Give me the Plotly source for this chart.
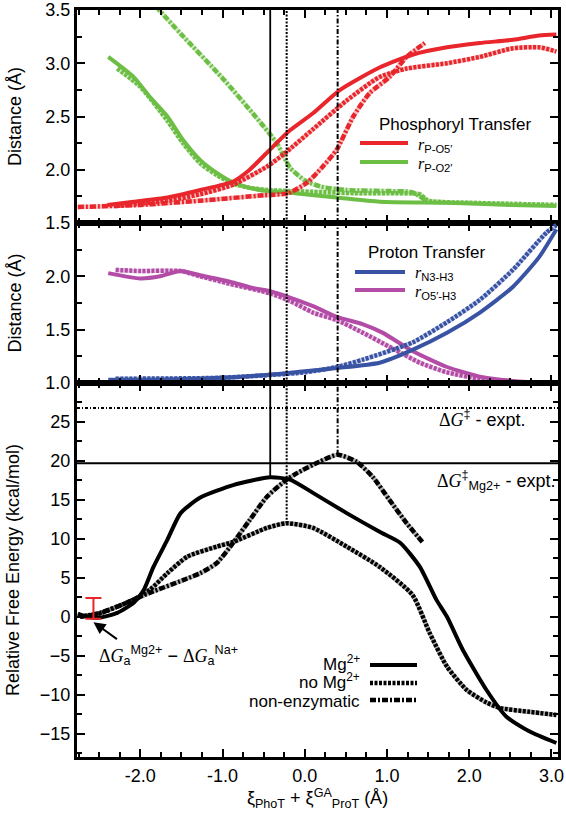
import plotly.graph_objects as go
from plotly.subplots import make_subplots
import numpy as np

# ------------------------------------------------------------------ data
# x: reaction coordinate xi_PhoT + xi_ProT^GA (Å)

# Top panel: phosphoryl transfer distances (Å)
pO5_mg_x = [-2.40, -2.08, -1.67, -1.27, -0.87, -0.67, -0.46, -0.18, 0.10, 0.43, 0.91, 1.31, 1.73, 2.13, 2.53, 2.85, 3.06]
pO5_mg_y = [1.67, 1.70, 1.74, 1.81, 1.89, 2.00, 2.16, 2.37, 2.53, 2.75, 2.96, 3.08, 3.15, 3.19, 3.22, 3.26, 3.27]
pO5_nomg_x = [-2.30, -1.67, -1.27, -0.87, -0.46, -0.25, 0.10, 0.51, 0.91, 1.24, 1.73, 2.13, 2.53, 2.85, 3.06]
pO5_nomg_y = [1.66, 1.71, 1.77, 1.86, 2.03, 2.15, 2.38, 2.65, 2.87, 2.95, 3.00, 3.06, 3.14, 3.15, 3.11]
pO5_ne_x = [-2.76, -2.00, -1.27, -0.50, -0.20, 0.03, 0.22, 0.39, 0.59, 0.79, 1.03, 1.24, 1.46]
pO5_ne_y = [1.65, 1.67, 1.71, 1.76, 1.78, 1.88, 2.03, 2.19, 2.50, 2.72, 2.87, 3.06, 3.19]

pO2_mg_x = [-2.39, -2.08, -1.88, -1.67, -1.48, -1.27, -1.07, -0.87, -0.67, -0.46, -0.26, 0.00, 0.39, 0.91, 1.73, 2.50, 3.06]
pO2_mg_y = [3.06, 2.87, 2.68, 2.50, 2.28, 2.09, 1.97, 1.88, 1.83, 1.80, 1.79, 1.77, 1.74, 1.70, 1.69, 1.67, 1.66]
pO2_nomg_x = [-2.28, -2.00, -1.67, -1.48, -1.27, -1.07, -0.87, -0.67, -0.46, -0.20, 0.20, 0.60, 1.00, 1.40, 1.50, 2.00, 2.50, 3.06]
pO2_nomg_y = [2.95, 2.78, 2.46, 2.25, 2.06, 1.95, 1.87, 1.83, 1.81, 1.80, 1.79, 1.78, 1.78, 1.77, 1.71, 1.69, 1.68, 1.67]
pO2_ne_x = [-1.90, -1.77, -1.50, -1.00, -0.60, -0.34, -0.18, 0.00, 0.20, 0.50, 1.00, 1.30, 1.46]
pO2_ne_y = [3.62, 3.50, 3.27, 2.86, 2.50, 2.25, 2.02, 1.90, 1.84, 1.81, 1.80, 1.79, 1.72]

# Middle panel: proton transfer distances (Å)
nh_mg_x = [-2.39, -2.00, -1.00, -0.40, 0.00, 0.39, 0.91, 1.31, 1.73, 2.13, 2.53, 2.85, 3.06]
nh_mg_y = [1.03, 1.03, 1.05, 1.08, 1.11, 1.14, 1.19, 1.31, 1.47, 1.66, 1.90, 2.18, 2.44]
nh_nomg_x = [-2.30, -1.00, 0.00, 0.39, 0.71, 1.31, 1.73, 2.13, 2.53, 2.94, 3.06]
nh_nomg_y = [1.04, 1.05, 1.10, 1.15, 1.22, 1.38, 1.57, 1.78, 2.06, 2.41, 2.48]

oh_mg_x = [-2.39, -2.00, -1.76, -1.51, -1.27, -0.91, -0.63, -0.42, -0.18, 0.10, 0.39, 0.71, 0.95, 1.31, 1.73, 2.13, 2.53, 3.06]
oh_mg_y = [2.03, 1.98, 2.00, 2.05, 2.01, 1.95, 1.89, 1.86, 1.80, 1.72, 1.62, 1.55, 1.47, 1.30, 1.15, 1.06, 1.02, 1.00]
oh_nomg_x = [-2.30, -2.00, -1.51, -1.27, -0.91, -0.42, -0.18, 0.10, 0.39, 0.71, 1.03, 1.40, 1.73, 2.13, 2.53, 3.06]
oh_nomg_y = [2.06, 2.05, 2.05, 2.00, 1.93, 1.84, 1.77, 1.66, 1.59, 1.47, 1.34, 1.19, 1.10, 1.04, 1.01, 1.00]

# Bottom panel: relative free energy (kcal/mol)
fe_mg_x = [-2.76, -2.65, -2.49, -2.28, -2.08, -1.96, -1.84, -1.67, -1.51, -1.27, -0.87, -0.42, -0.18, 0.10, 0.51, 0.91, 1.16, 1.40, 1.60, 1.73, 1.92, 2.21, 2.45, 2.73, 3.06]
fe_mg_y = [0.4, 0.0, -0.1, 0.5, 1.8, 3.4, 6.4, 9.9, 13.3, 15.3, 16.9, 17.9, 17.6, 15.9, 13.3, 10.9, 9.5, 6.4, 2.2, 0.0, -4.2, -9.4, -12.8, -14.7, -16.2]
fe_nomg_x = [-2.73, -2.50, -2.28, -2.08, -1.88, -1.67, -1.43, -1.07, -0.87, -0.46, -0.22, 0.10, 0.51, 0.91, 1.31, 1.52, 1.73, 1.97, 2.21, 2.37, 2.73, 3.06]
fe_nomg_y = [0.0, 0.4, 1.3, 2.2, 3.5, 5.6, 7.7, 9.0, 9.6, 11.4, 12.0, 11.4, 9.0, 6.4, 2.8, -2.1, -6.4, -9.4, -11.0, -11.7, -12.2, -12.6]
fe_ne_x = [-2.73, -2.49, -2.28, -1.88, -1.48, -1.27, -1.07, -0.87, -0.67, -0.46, -0.22, -0.10, 0.18, 0.40, 0.63, 0.83, 1.03, 1.24, 1.43]
fe_ne_y = [0.0, 0.5, 1.3, 3.1, 4.7, 5.6, 6.9, 9.5, 12.4, 15.4, 17.6, 18.4, 19.9, 20.8, 19.9, 17.9, 15.0, 12.0, 9.6]

# experimental barriers (kcal/mol)
dG_expt = 26.8
dG_mg_expt = 19.7

# ΔG_a(Mg2+) - ΔG_a(Na+) error bar
err_x = [-2.57]
err_lo = [-0.25]
err_hi = [2.4]

# axes
x_range = [-2.77, 3.08]
x_ticks = [-2.0, -1.0, 0.0, 1.0, 2.0, 3.0]
top_range = [1.5, 3.5]
top_ticks = [1.5, 2.0, 2.5, 3.0, 3.5]
mid_range = [1.0, 2.5]
mid_ticks = [1.0, 1.5, 2.0]
bot_range = [-18, 30]
bot_ticks = [-15, -10, -5, 0, 5, 10, 15, 20, 25]

# ------------------------------------------------------------------ style
RED = '#E8262B'
GREEN = '#6CBE45'
BLUE = '#3953A4'
MAG = '#B24CA6'
BLK = '#000000'
FONT = 'Liberation Sans, Arial, sans-serif'

STYLES = {
    'mg': dict(dash='solid', width=4),
    'nomg': dict(dash='3px,1.5px', width=4.5),
    'ne': dict(dash='6px,2px,2px,2px', width=4.5),
}

W, H = 566, 815
ML, MR, MT, MB = 77, 8, 10, 58
PW, PH = W - ML - MR, H - MT - MB


def pxx(xp):
    return (xp - ML) / PW


def pxy(yp):
    return (H - MB - yp) / PH


fig = make_subplots(rows=3, cols=1, shared_xaxes=True, vertical_spacing=0,
                    row_heights=[213, 160, 374])


def add_curve(x, y, color, style, row):
    st = STYLES[style]
    if style != 'mg':
        fig.add_trace(go.Scatter(x=x, y=y, mode='lines',
                                 line=dict(color=color, width=st['width'], shape='spline', smoothing=0.6),
                                 opacity=0.3, showlegend=False, hoverinfo='skip'), row=row, col=1)
    fig.add_trace(go.Scatter(x=x, y=y, mode='lines',
                             line=dict(color=color, width=st['width'], dash=st['dash'], shape='spline', smoothing=0.6),
                             showlegend=False), row=row, col=1)


add_curve(pO2_ne_x, pO2_ne_y, GREEN, 'ne', 1)
add_curve(pO2_nomg_x, pO2_nomg_y, GREEN, 'nomg', 1)
add_curve(pO2_mg_x, pO2_mg_y, GREEN, 'mg', 1)
add_curve(pO5_ne_x, pO5_ne_y, RED, 'ne', 1)
add_curve(pO5_nomg_x, pO5_nomg_y, RED, 'nomg', 1)
add_curve(pO5_mg_x, pO5_mg_y, RED, 'mg', 1)

add_curve(oh_nomg_x, oh_nomg_y, MAG, 'nomg', 2)
add_curve(oh_mg_x, oh_mg_y, MAG, 'mg', 2)
add_curve(nh_nomg_x, nh_nomg_y, BLUE, 'nomg', 2)
add_curve(nh_mg_x, nh_mg_y, BLUE, 'mg', 2)

add_curve(fe_nomg_x, fe_nomg_y, BLK, 'nomg', 3)
add_curve(fe_ne_x, fe_ne_y, BLK, 'ne', 3)
add_curve(fe_mg_x, fe_mg_y, BLK, 'mg', 3)

# error bar (drawn over the curves)
fig.add_trace(go.Scatter(
    x=err_x, y=err_lo, mode='markers', marker=dict(size=0.1, color=RED),
    error_y=dict(type='data', symmetric=False,
                 array=[h - l for h, l in zip(err_hi, err_lo)], arrayminus=[0],
                 color=RED, thickness=2, width=8),
    showlegend=False, hoverinfo='skip'), row=3, col=1)

# ------------------------------------------------------------------ guide lines
VSTY = {
    'mg': dict(color=BLK, width=1.8),
    'nomg': dict(color=BLK, width=2, dash='2px,1.5px'),
    'ne': dict(color=BLK, width=2, dash='5px,2px,1.5px,2px'),
}
for key, xs, ys in [('mg', fe_mg_x, fe_mg_y), ('nomg', fe_nomg_x, fe_nomg_y), ('ne', fe_ne_x, fe_ne_y)]:
    i = int(np.argmax(ys))
    xm, ym = xs[i], ys[i]
    fig.add_shape(type='line', xref='x', yref='y domain', x0=xm, x1=xm, y0=0, y1=1, line=VSTY[key])
    fig.add_shape(type='line', xref='x2', yref='y2 domain', x0=xm, x1=xm, y0=0, y1=1, line=VSTY[key])
    fig.add_shape(type='line', xref='x3', yref='y3', x0=xm, x1=xm, y0=ym, y1=bot_range[1], line=VSTY[key])

fig.add_shape(type='line', xref='x3 domain', yref='y3', x0=0, x1=1, y0=dG_expt, y1=dG_expt,
              line=dict(color=BLK, width=2, dash='3px,2px,1px,2px'))
fig.add_shape(type='line', xref='x3 domain', yref='y3', x0=0, x1=1, y0=dG_mg_expt, y1=dG_mg_expt,
              line=dict(color=BLK, width=1.8))

# ------------------------------------------------------------------ axes
axis_common = dict(showline=True, linewidth=3, linecolor=BLK, mirror='ticks',
                   ticks='inside', ticklen=8, tickwidth=2, tickcolor=BLK,
                   showgrid=False, zeroline=False, automargin=False,
                   tickfont=dict(family=FONT, size=18, color=BLK))
minor_x = dict(ticks='inside', ticklen=5, tickwidth=2, tickcolor=BLK, dtick=0.25, tick0=0)
for r in (1, 2, 3):
    fig.update_xaxes(row=r, col=1, range=x_range, tickvals=x_ticks,
                     ticktext=['%.1f' % v for v in x_ticks],
                     minor=minor_x, showticklabels=(r == 3), **axis_common)

TITLE_FONT = dict(family=FONT, size=18, color=BLK)
fig.update_yaxes(row=1, col=1, range=top_range, tickvals=top_ticks,
                 ticktext=['%.1f' % v for v in top_ticks],
                 minor=dict(ticks='inside', ticklen=5, tickwidth=2, tickcolor=BLK, dtick=0.25, tick0=0),
                 title=dict(text='Distance (Å)', font=TITLE_FONT, standoff=20), **axis_common)
fig.update_yaxes(row=2, col=1, range=mid_range, tickvals=mid_ticks,
                 ticktext=['%.1f' % v for v in mid_ticks],
                 minor=dict(ticks='inside', ticklen=5, tickwidth=2, tickcolor=BLK, dtick=0.25, tick0=0),
                 title=dict(text='Distance (Å)', font=TITLE_FONT, standoff=20), **axis_common)
fig.update_yaxes(row=3, col=1, range=bot_range, tickvals=bot_ticks,
                 minor=dict(ticks='inside', ticklen=5, tickwidth=2, tickcolor=BLK, dtick=2.5, tick0=0),
                 title=dict(text='Relative Free Energy (kcal/mol)', font=TITLE_FONT, standoff=16),
                 **axis_common)
fig.update_xaxes(row=3, col=1,
                 title=dict(text='ξ<sub>PhoT</sub> + ξ<sup>GA</sup><sub>ProT</sub> (Å)',
                            font=TITLE_FONT, standoff=6))

# ------------------------------------------------------------------ legends (drawn manually)
ann = []


def text(xp, yp, t, size=17, xanchor='left'):
    ann.append(dict(xref='paper', yref='paper', x=pxx(xp), y=pxy(yp), text=t, showarrow=False,
                    xanchor=xanchor, yanchor='middle', font=dict(family=FONT, size=size, color=BLK)))


def sample(x0, x1, yp, color, style):
    st = STYLES[style]
    fig.add_shape(type='line', xref='paper', yref='paper', x0=pxx(x0), x1=pxx(x1), y0=pxy(yp), y1=pxy(yp),
                  line=dict(color=color, width=st['width'], dash=st['dash']))


R_ITAL = "<span style='font-family:Liberation Serif;font-style:italic'>r</span>"
G_ITAL = "<span style='font-family:Liberation Serif'>Δ<i>G</i></span>"

text(455, 124, 'Phosphoryl Transfer', 17, 'center')
sample(360, 408, 143, RED, 'mg')
sample(360, 408, 162, GREEN, 'mg')
text(416, 145, R_ITAL + '<sub>P-O5′</sub>', 16)
text(416, 164, R_ITAL + '<sub>P-O2′</sub>', 16)

text(427, 252, 'Proton Transfer', 17, 'center')
sample(355, 405, 272, BLUE, 'mg')
sample(355, 405, 290, MAG, 'mg')
text(413, 274, R_ITAL + '<sub>N3-H3</sub>', 16)
text(413, 292, R_ITAL + '<sub>O5′-H3</sub>', 16)

text(362, 663, 'Mg<sup>2+</sup>', 17, 'right')
text(362, 681, 'no Mg<sup>2+</sup>', 17, 'right')
text(362, 701, 'non-enzymatic', 17, 'right')
sample(370, 417, 665, BLK, 'mg')
sample(370, 417, 683, BLK, 'nomg')
sample(370, 417, 700, BLK, 'ne')

text(528, 418, G_ITAL + '<sup>‡</sup> - expt.', 18, 'right')
text(557, 480, G_ITAL + '<sup>‡</sup><sub>Mg2+</sub> - expt.', 18, 'right')

text(97, 655, G_ITAL + '<sub>a</sub><sup>Mg2+</sup> − ' + G_ITAL + '<sub>a</sub><sup>Na+</sup>', 18, 'left')

# arrow pointing to the error bar
ann.append(dict(xref='x3', yref='y3', x=err_x[0], y=-0.7, ax=25, ay=18,
                text='', showarrow=True, arrowhead=2, arrowsize=1.2, arrowwidth=2, arrowcolor=BLK))

fig.update_layout(annotations=ann)

fig.update_layout(width=W, height=H, margin=dict(l=ML, r=MR, t=MT, b=MB, autoexpand=False),
                  plot_bgcolor='white', paper_bgcolor='white', showlegend=False,
                  font=dict(family=FONT, size=16, color=BLK))

fig.write_html('out.html', config={'displayModeBar': False},
               post_script="document.body.style.margin='0px';")
